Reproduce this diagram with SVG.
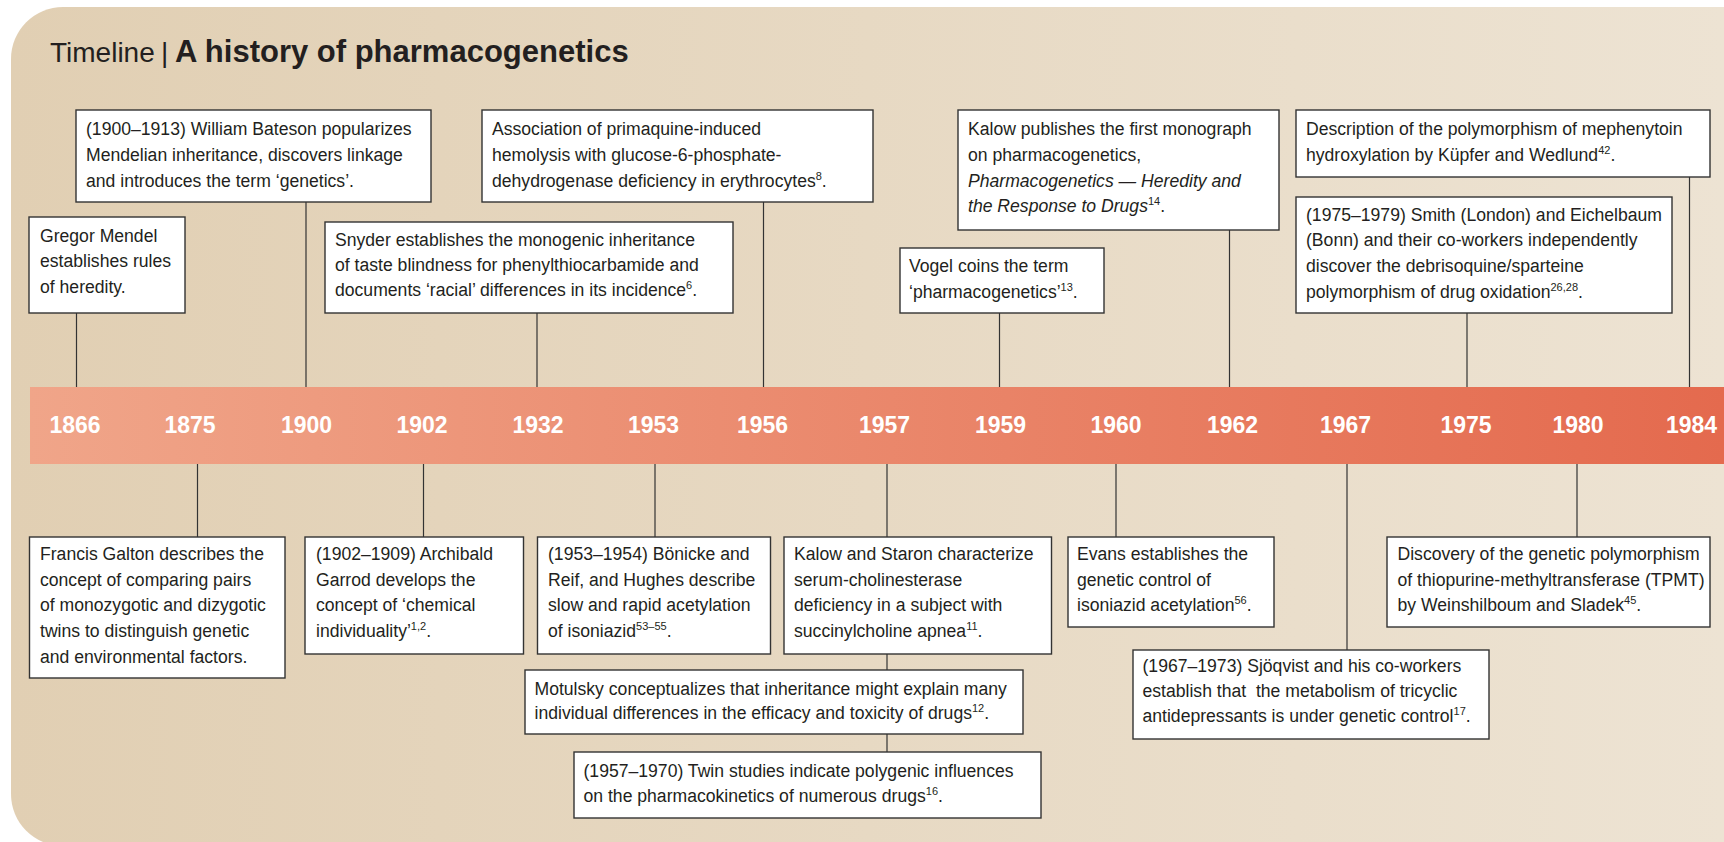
<svg xmlns="http://www.w3.org/2000/svg" width="1724" height="842" viewBox="0 0 1724 842">
<defs>
<linearGradient id="bg" x1="0" y1="0" x2="1" y2="0">
<stop offset="0" stop-color="#e1cfb3"/>
<stop offset="1" stop-color="#ede3d3"/>
</linearGradient>
<linearGradient id="band" x1="0" y1="0" x2="1" y2="0">
<stop offset="0" stop-color="#f0a589"/>
<stop offset="1" stop-color="#e46a4e"/>
</linearGradient>
<style>
.box{fill:#fff;stroke:#333;stroke-width:1.4}
.t{font-family:'Liberation Sans',Arial,sans-serif;font-size:17.6px;fill:#231f20}
.s{font-size:11px}
.i{font-style:italic}
.yr{font-family:'Liberation Sans',Arial,sans-serif;font-weight:bold;font-size:23px;fill:#fff;text-anchor:middle}
.c{stroke:#333;stroke-width:1.2;fill:none}
</style>
</defs>
<rect width="1724" height="842" fill="#fff"/>
<path d="M11,59 A52,52 0 0 1 63,7 H1724 V846 H63 A52,52 0 0 1 11,794 Z" fill="url(#bg)"/>
<g id="title">
<text x="50" y="62" font-family="'Liberation Sans',Arial,sans-serif" font-size="28" fill="#231f20">Timeline</text>
<text x="161" y="62" font-family="'Liberation Sans',Arial,sans-serif" font-size="28" fill="#231f20">|</text>
<text x="175" y="62" font-family="'Liberation Sans',Arial,sans-serif" font-size="31" font-weight="bold" fill="#231f20">A history of pharmacogenetics</text>
</g>
<g id="band">
<rect x="30" y="387" width="1694" height="77" fill="url(#band)"/>
<text class="yr" x="75" y="433">1866</text>
<text class="yr" x="190" y="433">1875</text>
<text class="yr" x="306.5" y="433">1900</text>
<text class="yr" x="422" y="433">1902</text>
<text class="yr" x="538" y="433">1932</text>
<text class="yr" x="653.5" y="433">1953</text>
<text class="yr" x="762.5" y="433">1956</text>
<text class="yr" x="884.5" y="433">1957</text>
<text class="yr" x="1000.5" y="433">1959</text>
<text class="yr" x="1116" y="433">1960</text>
<text class="yr" x="1232.5" y="433">1962</text>
<text class="yr" x="1345.5" y="433">1967</text>
<text class="yr" x="1466" y="433">1975</text>
<text class="yr" x="1578" y="433">1980</text>
<text class="yr" x="1691.5" y="433">1984</text>
</g>
<g id="connectors">
<line class="c" x1="76.5" y1="313" x2="76.5" y2="387"/>
<line class="c" x1="306" y1="202" x2="306" y2="387"/>
<line class="c" x1="537" y1="313" x2="537" y2="387"/>
<line class="c" x1="763.5" y1="202" x2="763.5" y2="387"/>
<line class="c" x1="999.5" y1="313" x2="999.5" y2="387"/>
<line class="c" x1="1229.5" y1="230" x2="1229.5" y2="387"/>
<line class="c" x1="1689.5" y1="177" x2="1689.5" y2="387"/>
<line class="c" x1="1467" y1="313" x2="1467" y2="387"/>
<line class="c" x1="197.5" y1="464" x2="197.5" y2="537"/>
<line class="c" x1="423.5" y1="464" x2="423.5" y2="537"/>
<line class="c" x1="655" y1="464" x2="655" y2="537"/>
<line class="c" x1="887" y1="464" x2="887" y2="537"/>
<line class="c" x1="887" y1="654" x2="887" y2="670"/>
<line class="c" x1="887" y1="734" x2="887" y2="752"/>
<line class="c" x1="1116" y1="464" x2="1116" y2="537"/>
<line class="c" x1="1347" y1="464" x2="1347" y2="650"/>
<line class="c" x1="1577" y1="464" x2="1577" y2="537"/>
</g>
<g id="mendel">
<rect class="box" x="29" y="217" width="156" height="96"/>
<text class="t" x="40"><tspan x="40" y="242">Gregor Mendel</tspan><tspan x="40" y="267">establishes rules</tspan><tspan x="40" y="293">of heredity.</tspan></text>
</g>
<g id="bateson">
<rect class="box" x="76" y="110" width="355" height="92"/>
<text class="t"><tspan x="86" y="135">(1900–1913) William Bateson popularizes</tspan><tspan x="86" y="161">Mendelian inheritance, discovers linkage</tspan><tspan x="86" y="187">and introduces the term ‘genetics’.</tspan></text>
</g>
<g id="snyder">
<rect class="box" x="325" y="222" width="408" height="91"/>
<text class="t"><tspan x="335" y="246">Snyder establishes the monogenic inheritance</tspan><tspan x="335" y="271">of taste blindness for phenylthiocarbamide and</tspan><tspan x="335" y="296">documents ‘racial’ differences in its incidence</tspan><tspan class="s" dy="-7">6</tspan><tspan dy="7">.</tspan></text>
</g>
<g id="primaquine">
<rect class="box" x="482" y="110" width="391" height="92"/>
<text class="t"><tspan x="492" y="135">Association of primaquine-induced</tspan><tspan x="492" y="161">hemolysis with glucose-6-phosphate-</tspan><tspan x="492" y="187">dehydrogenase deficiency in erythrocytes</tspan><tspan class="s" dy="-7">8</tspan><tspan dy="7">.</tspan></text>
</g>
<g id="vogel">
<rect class="box" x="900" y="248" width="204" height="65"/>
<text class="t"><tspan x="909" y="272">Vogel coins the term</tspan><tspan x="909" y="298">‘pharmacogenetics’</tspan><tspan class="s" dy="-7">13</tspan><tspan dy="7">.</tspan></text>
</g>
<g id="kalow-monograph">
<rect class="box" x="958" y="110" width="321" height="120"/>
<text class="t"><tspan x="968" y="135">Kalow publishes the first monograph</tspan><tspan x="968" y="161">on pharmacogenetics,</tspan><tspan class="i" x="968" y="187">Pharmacogenetics — Heredity and</tspan><tspan class="i" x="968" y="212">the Response to Drugs</tspan><tspan class="s" dy="-7">14</tspan><tspan dy="7">.</tspan></text>
</g>
<g id="mephenytoin">
<rect class="box" x="1296" y="110" width="414" height="67"/>
<text class="t"><tspan x="1306" y="135">Description of the polymorphism of mephenytoin</tspan><tspan x="1306" y="161">hydroxylation by Küpfer and Wedlund</tspan><tspan class="s" dy="-7">42</tspan><tspan dy="7">.</tspan></text>
</g>
<g id="smith">
<rect class="box" x="1296" y="197" width="376" height="116"/>
<text class="t"><tspan x="1306" y="221">(1975–1979) Smith (London) and Eichelbaum</tspan><tspan x="1306" y="246">(Bonn) and their co-workers independently</tspan><tspan x="1306" y="272">discover the debrisoquine/sparteine</tspan><tspan x="1306" y="298">polymorphism of drug oxidation</tspan><tspan class="s" dy="-7">26,28</tspan><tspan dy="7">.</tspan></text>
</g>
<g id="galton">
<rect class="box" x="29.5" y="537" width="255.5" height="141"/>
<text class="t"><tspan x="40" y="560">Francis Galton describes the</tspan><tspan x="40" y="586">concept of comparing pairs</tspan><tspan x="40" y="611">of monozygotic and dizygotic</tspan><tspan x="40" y="637">twins to distinguish genetic</tspan><tspan x="40" y="663">and environmental factors.</tspan></text>
</g>
<g id="garrod">
<rect class="box" x="305" y="537" width="218.5" height="117"/>
<text class="t"><tspan x="316" y="560">(1902–1909) Archibald</tspan><tspan x="316" y="586">Garrod develops the</tspan><tspan x="316" y="611">concept of ‘chemical</tspan><tspan x="316" y="637">individuality’</tspan><tspan class="s" dy="-7">1,2</tspan><tspan dy="7">.</tspan></text>
</g>
<g id="bonicke">
<rect class="box" x="537.5" y="537" width="233" height="117"/>
<text class="t"><tspan x="548" y="560">(1953–1954) Bönicke and</tspan><tspan x="548" y="586">Reif, and Hughes describe</tspan><tspan x="548" y="611">slow and rapid acetylation</tspan><tspan x="548" y="637">of isoniazid</tspan><tspan class="s" dy="-7">53–55</tspan><tspan dy="7">.</tspan></text>
</g>
<g id="kalow-staron">
<rect class="box" x="784" y="537" width="267.5" height="117"/>
<text class="t"><tspan x="794" y="560">Kalow and Staron characterize</tspan><tspan x="794" y="586">serum-cholinesterase</tspan><tspan x="794" y="611">deficiency in a subject with</tspan><tspan x="794" y="637">succinylcholine apnea</tspan><tspan class="s" dy="-7">11</tspan><tspan dy="7">.</tspan></text>
</g>
<g id="motulsky">
<rect class="box" x="525" y="670" width="498" height="64"/>
<text class="t"><tspan x="534.5" y="695">Motulsky conceptualizes that inheritance might explain many</tspan><tspan x="534.5" y="719">individual differences in the efficacy and toxicity of drugs</tspan><tspan class="s" dy="-7">12</tspan><tspan dy="7">.</tspan></text>
</g>
<g id="twin">
<rect class="box" x="574" y="752" width="467" height="66"/>
<text class="t"><tspan x="583.5" y="777">(1957–1970) Twin studies indicate polygenic influences</tspan><tspan x="583.5" y="802">on the pharmacokinetics of numerous drugs</tspan><tspan class="s" dy="-7">16</tspan><tspan dy="7">.</tspan></text>
</g>
<g id="evans">
<rect class="box" x="1068" y="537" width="206" height="90"/>
<text class="t"><tspan x="1077" y="560">Evans establishes the</tspan><tspan x="1077" y="586">genetic control of</tspan><tspan x="1077" y="611">isoniazid acetylation</tspan><tspan class="s" dy="-7">56</tspan><tspan dy="7">.</tspan></text>
</g>
<g id="sjoqvist">
<rect class="box" x="1133" y="650" width="356" height="89"/>
<text class="t" xml:space="preserve"><tspan x="1142.5" y="672">(1967–1973) Sjöqvist and his co-workers</tspan><tspan x="1142.5" y="697">establish that  the metabolism of tricyclic</tspan><tspan x="1142.5" y="722">antidepressants is under genetic control</tspan><tspan class="s" dy="-7">17</tspan><tspan dy="7">.</tspan></text>
</g>
<g id="tpmt">
<rect class="box" x="1387" y="537" width="323" height="90"/>
<text class="t"><tspan x="1397.5" y="560">Discovery of the genetic polymorphism</tspan><tspan x="1397.5" y="586">of thiopurine-methyltransferase (TPMT)</tspan><tspan x="1397.5" y="611">by Weinshilboum and Sladek</tspan><tspan class="s" dy="-7">45</tspan><tspan dy="7">.</tspan></text>
</g>
</svg>
